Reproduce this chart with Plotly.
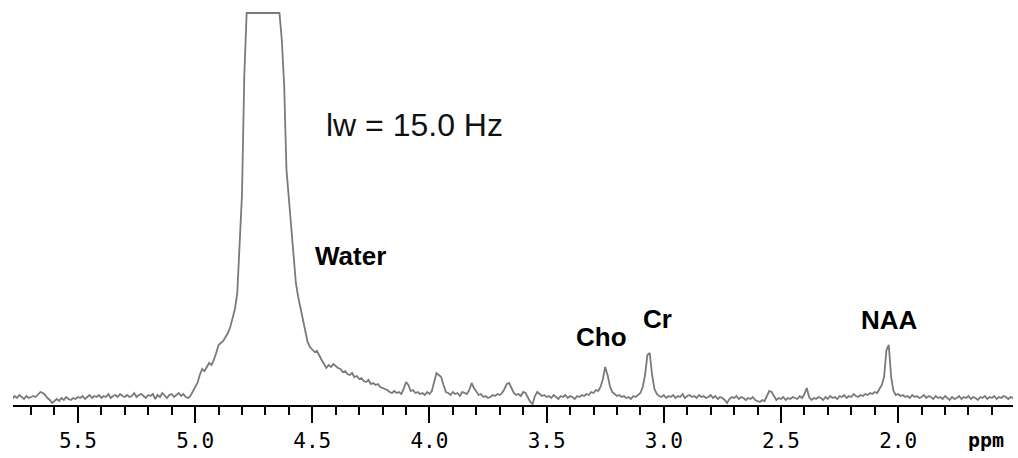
import numpy as np
import plotly.graph_objects as go

# Spectrum sampled every 0.01 ppm, starting at 5.79 ppm (rows of 0.1 ppm)
PPM_START = 5.79
PPM_STEP = 0.01
intensity_rows = [
    [8, 6, 9, 7, 10, 8, 6, 9, 7, 8],            # 5.79-5.70
    [9, 8, 11, 13, 12, 10, 7, 5, 2, 4],         # 5.69-5.60
    [6, 4, 7, 5, 8, 6, 5, 7, 6, 8],             # 5.59-5.50
    [7, 9, 6, 8, 10, 7, 9, 8, 10, 7],           # 5.49-5.40
    [9, 8, 11, 7, 9, 10, 8, 11, 9, 8],          # 5.39-5.30
    [10, 8, 9, 12, 8, 10, 11, 9, 7, 10],        # 5.29-5.20
    [9, 11, 6, 10, 8, 12, 9, 7, 10, 11],        # 5.19-5.10
    [8, 10, 12, 9, 11, 8, 7, 9, 13, 17],        # 5.09-5.00
    [22, 30, 36, 34, 38, 42, 40, 45, 52, 60],   # 4.99-4.90
    [62, 64, 68, 72, 78, 86, 96, 112, 155, 210],  # 4.89-4.80
    [330, 392, 392, 392, 392, 392, 392, 392, 392, 392],  # 4.79-4.70
    [392, 392, 392, 392, 392, 392, 365, 320, 235, 205],  # 4.69-4.60
    [175, 145, 122, 108, 97, 85, 76, 63, 58, 55],  # 4.59-4.50
    [53, 54, 49, 45, 41, 37, 40, 38, 41, 39],   # 4.49-4.40
    [37, 36, 33, 34, 31, 30, 32, 28, 29, 26],   # 4.39-4.30
    [27, 24, 23, 25, 21, 22, 20, 21, 18, 17],   # 4.29-4.20
    [16, 15, 13, 12, 14, 12, 13, 11, 16, 23],   # 4.19-4.10
    [20, 14, 15, 12, 13, 11, 12, 10, 13, 11],   # 4.09-4.00
    [14, 22, 32, 30, 28, 20, 13, 12, 10, 13],   # 3.99-3.90
    [11, 12, 9, 13, 12, 11, 15, 22, 17, 14],    # 3.89-3.80
    [10, 11, 8, 9, 7, 8, 10, 9, 11, 10],        # 3.79-3.70
    [12, 16, 21, 22, 17, 12, 10, 11, 9, 13],    # 3.69-3.60
    [12, 8, 3, 1, 9, 13, 11, 9, 10, 8],         # 3.59-3.50
    [9, 7, 10, 8, 6, 9, 8, 10, 7, 9],           # 3.49-3.40
    [8, 6, 9, 8, 10, 9, 11, 10, 13, 12],        # 3.39-3.30
    [15, 14, 18, 26, 38, 30, 19, 13, 11, 9],    # 3.29-3.20
    [10, 8, 9, 7, 8, 6, 9, 8, 10, 12],          # 3.19-3.10
    [18, 30, 50, 52, 30, 16, 11, 9, 8, 10],     # 3.09-3.00
    [7, 9, 8, 10, 7, 9, 8, 11, 7, 9],           # 2.99-2.90
    [10, 8, 9, 7, 10, 8, 9, 7, 8, 10],          # 2.89-2.80
    [7, 9, 6, 8, 7, 5, 2, 6, 8, 7],             # 2.79-2.70
    [9, 6, 8, 7, 5, 7, 6, 8, 5, 4],             # 2.69-2.60
    [3, 5, 4, 9, 14, 13, 9, 5, 7, 6],           # 2.59-2.50
    [8, 5, 7, 6, 8, 7, 6, 9, 7, 11],            # 2.49-2.40
    [17, 8, 5, 7, 6, 8, 7, 5, 8, 6],            # 2.39-2.30
    [9, 7, 8, 6, 9, 8, 10, 7, 9, 8],            # 2.29-2.20
    [11, 9, 8, 10, 9, 11, 10, 12, 11, 13],      # 2.19-2.10
    [12, 16, 20, 28, 55, 60, 28, 14, 10, 11],   # 2.09-2.00
    [9, 10, 8, 9, 7, 10, 8, 9, 7, 8],           # 1.99-1.90
    [10, 7, 9, 8, 6, 9, 7, 8, 6, 9],            # 1.89-1.80
    [7, 5, 8, 6, 7, 9, 6, 8, 7, 9],             # 1.79-1.70
    [6, 8, 7, 5, 8, 7, 9, 6, 8, 7],             # 1.69-1.60
    [9, 6, 8, 7, 9, 8, 6, 8, 7, 9],             # 1.59-1.50
]

major_ticks = [5.5, 5.0, 4.5, 4.0, 3.5, 3.0, 2.5, 2.0]
major_labels = ["5.5", "5.0", "4.5", "4.0", "3.5", "3.0", "2.5", "2.0"]

peak_labels = ["Water", "Cho", "Cr", "NAA"]
peak_label_ppm = [4.336, 3.268, 3.025, 2.036]
peak_label_int = [149, 68, 86, 85]

intensity = np.array([v for row in intensity_rows for v in row], dtype=float)
ppm = np.round(PPM_START - PPM_STEP * np.arange(len(intensity)), 2)

fig = go.Figure()
fig.add_trace(go.Scatter(
    x=ppm, y=intensity, mode="lines",
    line=dict(color="#7a7a7a", width=1.8),
    hoverinfo="skip", showlegend=False,
))

for txt, px, py in zip(peak_labels, peak_label_ppm, peak_label_int):
    fig.add_annotation(x=px, y=py, xref="x", yref="y", text="<b>%s</b>" % txt,
                       showarrow=False, font=dict(family="Liberation Sans, Arial", size=26, color="black"),
                       xanchor="center", yanchor="middle")

fig.add_annotation(x=4.065, y=280, xref="x", yref="y", text="lw = 15.0 Hz",
                   showarrow=False, font=dict(family="Liberation Sans, Arial", size=32, color="#111"),
                   xanchor="center", yanchor="middle")

fig.add_annotation(x=1.625, y=-0.088, xref="x", yref="paper", text="<b>ppm</b>",
                   showarrow=False, font=dict(family="DejaVu Sans Mono", size=20, color="black"),
                   xanchor="center", yanchor="middle")

fig.update_layout(
    width=1018, height=458,
    margin=dict(l=13, r=5, t=10, b=53),
    paper_bgcolor="white", plot_bgcolor="white",
    xaxis=dict(
        range=[5.777, 1.51],
        tickmode="array", tickvals=major_ticks, ticktext=major_labels,
        ticks="outside", ticklen=16, tickwidth=2, tickcolor="black",
        showline=True, linewidth=2, linecolor="black",
        showgrid=False, zeroline=False,
        tickfont=dict(family="DejaVu Sans Mono", size=21, color="black"),
        minor=dict(tick0=2.0, dtick=0.1, ticks="outside", ticklen=8,
                   tickwidth=2, tickcolor="black", showgrid=False),
    ),
    yaxis=dict(range=[0, 395], visible=False, showgrid=False, zeroline=False),
)

fig.write_html(
    "out.html",
    config={"displayModeBar": False},
    post_script="document.body.style.margin='0';document.body.style.overflow='hidden';",
)
